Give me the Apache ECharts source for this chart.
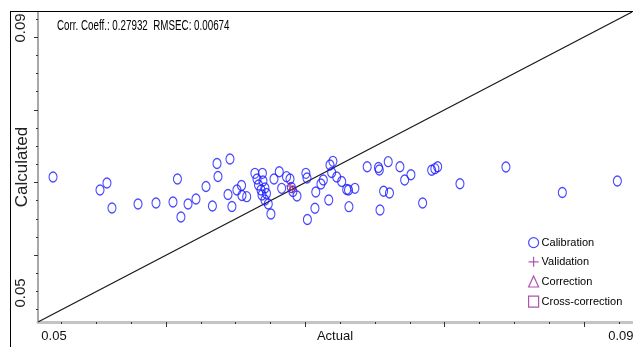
<!DOCTYPE html>
<html>
<head>
<meta charset="utf-8">
<script src="https://cdn.jsdelivr.net/npm/echarts@6/dist/echarts.min.js"></script>
<style>
html,body{margin:0;padding:0;background:#fff;}
#wrap{position:relative;width:633px;height:347px;overflow:hidden;}
#chart{position:absolute;left:0;top:0;width:633px;height:347px;}
#frame{position:absolute;left:10px;top:11px;width:640px;height:400px;border-left:1px solid #000;border-top:1px solid #000;pointer-events:none;}
</style>
</head>
<body>
<div id="wrap"><div id="chart"></div><div id="frame"></div></div>
<script>
// ---- data ----
const calibActual = [
0.05189,0.05526,0.05576,0.05612,0.05799,0.05928,0.06050,0.06082,0.06158,0.06107,
0.06215,0.06287,0.06333,0.06366,0.06373,0.06459,0.06445,0.06473,0.06509,0.06542,
0.06545,0.06579,0.06638,0.06653,0.06692,0.06664,0.06696,0.06682,0.06710,0.06689,
0.06721,0.06710,0.06734,0.06753,0.06775,0.06813,0.06830,0.06865,0.06890,0.06900,
0.06911,0.06940,0.07004,0.07012,0.07075,0.07069,0.07015,0.07112,0.07129,0.07168,
0.07177,0.07198,0.07189,0.07225,0.07261,0.07297,0.07310,0.07313,0.07356,0.07444,
0.07525,0.07531,0.07562,0.07604,0.07536,0.07595,0.07679,0.07713,0.07758,0.07842,
0.07907,0.07930,0.07950,0.08110,0.08440,0.08845,0.09240];
const calibCalculated = [
0.07075,0.06897,0.06993,0.06649,0.06704,0.06718,0.06732,0.07048,0.06704,0.06525,
0.06773,0.06945,0.06677,0.07261,0.07082,0.07323,0.06835,0.06670,0.06897,0.06959,
0.06821,0.06805,0.07126,0.07048,0.07126,0.06965,0.07020,0.06897,0.06924,0.06828,
0.06848,0.06759,0.06704,0.06567,0.07048,0.07148,0.06920,0.07080,0.07048,0.06931,
0.06876,0.06814,0.07126,0.07062,0.06869,0.06645,0.06491,0.06979,0.07034,0.06759,
0.07241,0.07291,0.07137,0.07075,0.07014,0.06903,0.06897,0.06667,0.06920,0.07217,
0.07206,0.07172,0.06880,0.06855,0.06622,0.07286,0.07217,0.07034,0.07107,0.06718,
0.07168,0.07190,0.07217,0.06983,0.07213,0.06862,0.07020];
const validActual = [0.06890, 0.06908];
const validCalculated = [0.06952, 0.06903];
const correctionActual = [];
const correctionCalculated = [];
const crossActual = [];
const crossCalculated = [];
const seriesNames = ['Calibration','Validation','Correction','Cross-correction'];
const axisMin = 0.05081, axisMax = 0.09345;
const majorTicks = [0.06,0.07,0.08,0.09];
const minorTicks = [0.0525,0.055,0.0575,0.0625,0.065,0.0675,0.0725,0.075,0.0775,0.0825,0.085,0.0875,0.0925];
const xLabelPos = [0.05196, 0.09265];
const yLabelPos = [0.05480, 0.09125];
const tickLabels = ['0.05','0.09'];
const statsText = 'Corr. Coeff.: 0.27932  RMSEC: 0.00674';

// ---- chart ----
const zip = (a,b) => a.map((v,i)=>[v,b[i]]);
const sans = '"Liberation Sans",Arial,sans-serif';
const blue = '#1a1aff', purple = '#9a2a9a', valColor = '#b0205a';
const ellipse = 'path://M0,5A5,5 0 1,1 10,5A5,5 0 1,1 0,5Z';
const plus = 'path://M5,0L5,10M0,5L10,5';
const labelFmt = pos => (v => { const i = pos.findIndex(p => Math.abs(p - v) < 1e-9); return i >= 0 ? tickLabels[i] : v.toFixed(2); });

const chart = echarts.init(document.getElementById('chart'), null, {renderer:'canvas'});
chart.setOption({
  animation:false,
  backgroundColor:'#fff',
  graphic:[{
    type:'text',left:57,top:19,scaleX:0.7,
    style:{text:statsText,fontSize:14,fontFamily:sans,fill:'#000'}
  }],
  grid:{left:38,right:1,top:12,bottom:25,containLabel:false,outerBoundsMode:'none'},
  legend:{
    orient:'vertical',left:528,top:237,padding:0,itemWidth:10,itemHeight:11,itemGap:8,
    textStyle:{fontSize:11,fontFamily:sans,color:'#000',padding:[0,0,0,-2]},
    data:[
      {name:seriesNames[0],icon:ellipse,itemStyle:{color:'transparent',borderColor:blue,borderWidth:1.2}},
      {name:seriesNames[1],icon:plus,itemStyle:{color:'transparent',borderColor:purple,borderWidth:1.2}},
      {name:seriesNames[2],icon:'triangle',itemStyle:{color:'transparent',borderColor:purple,borderWidth:1.2}},
      {name:seriesNames[3],icon:'rect',itemStyle:{color:'transparent',borderColor:purple,borderWidth:1.2}}
    ]
  },
  xAxis:[{
    type:'value',min:axisMin,max:axisMax,position:'bottom',
    axisLine:{show:true,onZero:false,lineStyle:{color:'#c4c4c4',width:3}},
    axisTick:{show:true,customValues:minorTicks,length:2,lineStyle:{color:'#333',width:1}},
    axisLabel:{customValues:xLabelPos,margin:8,fontSize:13,fontFamily:sans,color:'#111',formatter:labelFmt(xLabelPos)},
    splitLine:{show:false},
    name:'Actual',nameLocation:'middle',nameGap:8,nameMoveOverlap:false,
    nameTextStyle:{fontSize:13,fontFamily:sans,color:'#111',verticalAlign:'top'}
  },{
    type:'value',min:axisMin,max:axisMax,position:'bottom',
    axisLine:{show:false,onZero:false},
    axisTick:{show:true,customValues:majorTicks,length:5,lineStyle:{color:'#333',width:1}},
    axisLabel:{show:false},splitLine:{show:false}
  }],
  yAxis:[{
    type:'value',min:axisMin,max:axisMax,position:'left',
    axisLine:{show:true,onZero:false,lineStyle:{color:'#a8a8a8',width:2}},
    axisTick:{show:true,customValues:minorTicks,length:2,lineStyle:{color:'#333',width:1}},
    axisLabel:{customValues:yLabelPos,rotate:90,margin:10,fontSize:15,fontFamily:sans,color:'#222',formatter:labelFmt(yLabelPos)},
    splitLine:{show:false},
    name:'Calculated',nameLocation:'middle',nameGap:7,nameRotate:90,nameMoveOverlap:false,
    nameTextStyle:{fontSize:17,fontFamily:sans,color:'#222'}
  },{
    type:'value',min:axisMin,max:axisMax,position:'left',
    axisLine:{show:false,onZero:false},
    axisTick:{show:true,customValues:majorTicks,length:4,lineStyle:{color:'#333',width:1}},
    axisLabel:{show:false},splitLine:{show:false}
  }],
  series:[
    {name:'identity',type:'line',data:[[axisMin,axisMin],[axisMax,axisMax]],symbol:'none',silent:true,
     lineStyle:{color:'#1a1a1a',width:1.3},z:1},
    {name:seriesNames[0],type:'scatter',data:zip(calibActual,calibCalculated),symbol:ellipse,symbolSize:[8,10],
     itemStyle:{color:'transparent',borderColor:blue,borderWidth:1.2},z:3},
    {name:seriesNames[1],type:'scatter',data:zip(validActual,validCalculated),symbol:plus,symbolSize:[8,8],
     itemStyle:{color:'transparent',borderColor:valColor,borderWidth:1.2},z:4},
    {name:seriesNames[2],type:'scatter',data:zip(correctionActual,correctionCalculated),symbol:'triangle',symbolSize:9,
     itemStyle:{color:'transparent',borderColor:purple,borderWidth:1.2}},
    {name:seriesNames[3],type:'scatter',data:zip(crossActual,crossCalculated),symbol:'rect',symbolSize:9,
     itemStyle:{color:'transparent',borderColor:purple,borderWidth:1.2}}
  ]
});
</script>
</body>
</html>
